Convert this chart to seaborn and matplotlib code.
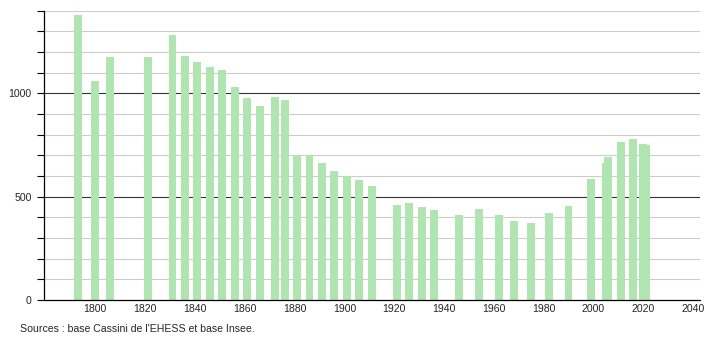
import matplotlib
matplotlib.use("Agg")
import matplotlib.pyplot as plt
from matplotlib.ticker import MultipleLocator, FixedLocator
import seaborn as sns
import pandas as pd

years = [1793, 1800, 1806, 1821, 1831, 1836, 1841, 1846, 1851, 1856, 1861, 1866,
         1872, 1876, 1881, 1886, 1891, 1896, 1901, 1906, 1911, 1921, 1926, 1931,
         1936, 1946, 1954, 1962, 1968, 1975, 1982, 1990, 1999, 2005, 2006, 2011,
         2016, 2020, 2021]
population = [1377, 1059, 1174, 1176, 1280, 1180, 1151, 1126, 1111, 1029, 977, 938,
              982, 969, 700, 700, 661, 622, 600, 580, 552, 460, 468, 448,
              434, 411, 440, 410, 382, 371, 419, 455, 585, 661, 690, 764,
              779, 755, 750]
x_ticks = [1800, 1820, 1840, 1860, 1880, 1900, 1920, 1940, 1960, 1980, 2000, 2020, 2040]
y_labels = [0, 500, 1000]
source_text = "Sources : base Cassini de l'EHESS et base Insee."

sns.set_style("white")
plt.rcParams["font.family"] = ["Liberation Sans", "DejaVu Sans"]

df = pd.DataFrame({"year": years, "pop": population})

fig = plt.figure(figsize=(7.1, 3.4), dpi=100)
ax = fig.add_axes([44 / 710, 1 - 300 / 340, (700 - 44) / 710, (300 - 10.7) / 340])

sns.barplot(data=df, x="year", y="pop", native_scale=True, width=3.2,
            color="#b0e4b0", saturation=1, errorbar=None, ax=ax, zorder=3,
            linewidth=0)

ax.set_xlim(1779.4, 2042.8)
ax.set_ylim(0, 1400)

ax.yaxis.set_major_locator(FixedLocator(y_labels))
ax.yaxis.set_minor_locator(MultipleLocator(100))
ax.xaxis.set_major_locator(FixedLocator(x_ticks))
ax.set_xticklabels([str(t) for t in x_ticks])
ax.set_yticklabels([str(t) for t in y_labels])

ax.grid(False)
for v in range(100, 1401, 100):
    if v % 500 == 0:
        ax.axhline(v, color="#333333", lw=0.8, zorder=1)
    else:
        ax.axhline(v, color="#cccccc", lw=0.8, zorder=1)

ax.tick_params(axis="y", which="both", direction="out", length=5, width=0.8,
               color="black", left=True, labelsize=7.6, pad=4)
ax.tick_params(axis="x", which="both", length=0, labelsize=7.6, pad=3)

for s in ["top", "right"]:
    ax.spines[s].set_visible(False)
for s in ["left", "bottom"]:
    ax.spines[s].set_color("black")
    ax.spines[s].set_linewidth(0.9)
    ax.spines[s].set_zorder(4)

ax.set_xlabel("")
ax.set_ylabel("")

fig.text(20 / 710, 1 - 329 / 340, source_text, fontsize=7.6, va="center", ha="left")

fig.savefig("out.png", dpi=100)
